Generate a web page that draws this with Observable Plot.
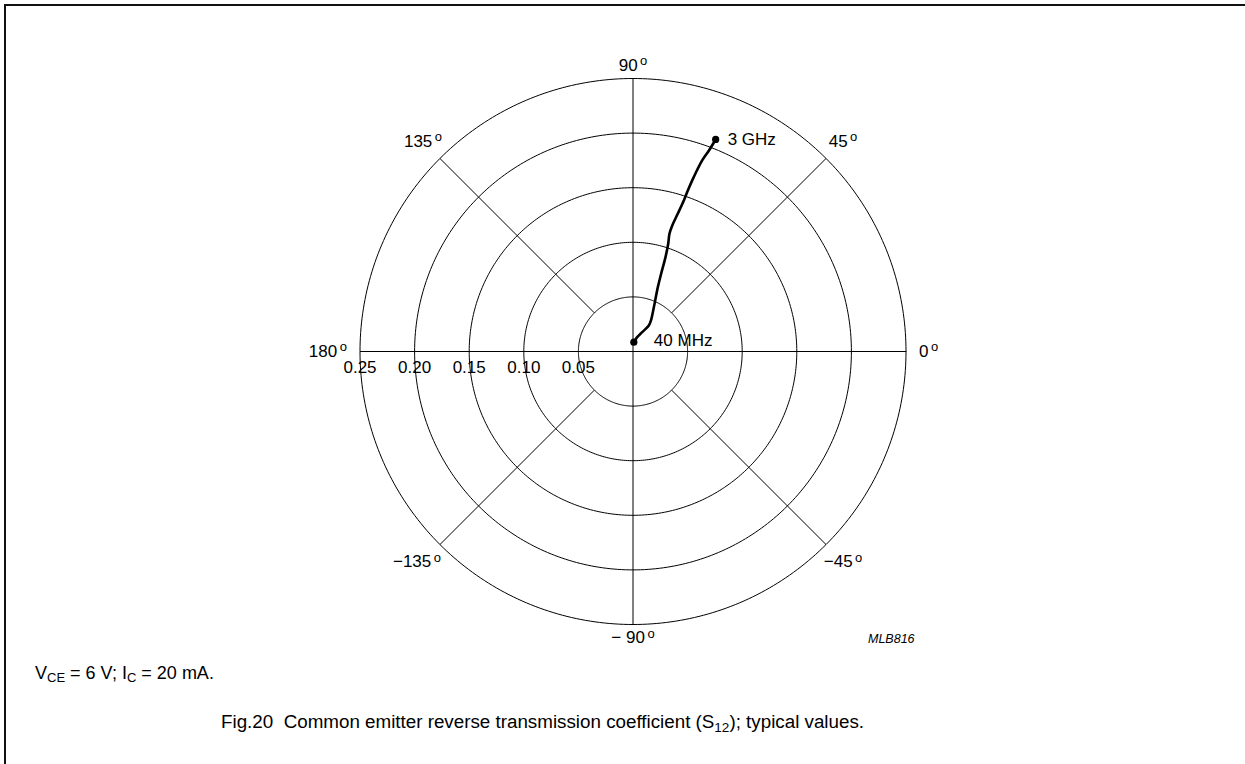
<!DOCTYPE html>
<html>
<head>
<meta charset="utf-8">
<script src="https://cdn.jsdelivr.net/npm/d3@7"></script>
<script src="https://cdn.jsdelivr.net/npm/@observablehq/plot@0.6"></script>
<style>
  html, body { margin: 0; padding: 0; background: #fff; overflow: hidden; width: 1245px; height: 764px; }
  body { position: relative; font-family: "Liberation Sans", Arial, sans-serif; color: #000; }
  #frameTop { position: absolute; left: 4px; top: 4px; width: 1241px; height: 2px; background: #111; }
  #frameLeft { position: absolute; left: 4px; top: 4px; width: 2px; height: 760px; background: #111; }
  #chart { position: absolute; left: 0; top: 0; }
  #code { position: absolute; left: 868px; top: 633px; font-size: 12.5px; font-style: italic; line-height: 13px; }
  #cond { position: absolute; left: 35px; top: 664px; font-size: 18px; line-height: 18px; white-space: pre; }
  #cond sub { font-size: 13px; vertical-align: -3px; line-height: 0; }
  #caption { position: absolute; left: 221px; top: 712px; font-size: 18.8px; line-height: 19px; white-space: pre; }
  #caption sub { font-size: 13.5px; vertical-align: -4px; line-height: 0; }
</style>
</head>
<body>
<div id="chart"></div>
<div id="frameTop"></div>
<div id="frameLeft"></div>
<div id="code">MLB816</div>
<div id="cond">V<sub>CE</sub> = 6 V; I<sub>C</sub> = 20 mA.</div>
<div id="caption">Fig.20  Common emitter reverse transmission coefficient (S<sub>12</sub>); typical values.</div>
<script>
// ---- data ----
const ringValues = [0.05, 0.10, 0.15, 0.20, 0.25];
const ringLabels = ["0.05", "0.10", "0.15", "0.20", "0.25"];
const spokeAngles = [0, 45, 90, 135, 180, -135, -90, -45];
const spokeLabels = ["0", "45", "90", "135", "180", "\u2212135", "\u2212 90", "\u221245"];
const freqLabels = ["40 MHz", "3 GHz"];
// S12 magnitude and phase (degrees), 40 MHz ... 3 GHz
const s12Magnitude = [0.0086, 0.0137, 0.0196, 0.0279, 0.0334, 0.0403, 0.0494, 0.0632, 0.0757, 0.0914,
                      0.1038, 0.1129, 0.1209, 0.1326, 0.1459, 0.1558, 0.1691, 0.1861, 0.1968, 0.2084];
const s12Angle = [84.9, 73.8, 64.6, 58.7, 60.2, 63.2, 66.1, 68.9, 70.1, 71.0,
                  71.9, 72.8, 72.7, 72.0, 71.4, 71.2, 70.8, 70.1, 69.3, 68.7];

// ---- helpers ----
const rad = a => a * Math.PI / 180;
const px = (r, a) => r * Math.cos(rad(a));
const py = (r, a) => r * Math.sin(rad(a));
const rMax = ringValues[ringValues.length - 1];

const circleData = ringValues.flatMap(r => d3.range(0, 361, 1).map(a => ({ring: r, x: px(r, a), y: py(r, a)})));
const spokeData = spokeAngles.map(a => ({a, r0: a % 90 === 0 ? 0 : ringValues[0], r1: rMax}));
const curve = s12Magnitude.map((m, i) => ({x: px(m, s12Angle[i]), y: py(m, s12Angle[i])}));
const ends = [curve[0], curve[curve.length - 1]];

const axisLabelR = 0.262, diagLabelR = 0.272;
const angleLabels = spokeAngles.map((a, i) => {
  const r = a % 90 === 0 ? axisLabelR : diagLabelR;
  return {a, x: px(r, a), y: py(r, a), text: spokeLabels[i] + "\u00b0"};
});

const cx = 632.5, cy = 351, R = 273;
const font = "Liberation Sans, Arial, sans-serif";

const chart = Plot.plot({
  width: 1200,
  height: 650,
  margin: 0,
  style: {fontFamily: font, background: "transparent", overflow: "visible"},
  x: {domain: [-rMax, rMax], range: [cx - R, cx + R], axis: null},
  y: {domain: [-rMax, rMax], range: [cy + R, cy - R], axis: null},
  marks: [
    Plot.line(circleData, {x: "x", y: "y", z: "ring", stroke: "black", strokeWidth: 1}),
    Plot.link(spokeData, {
      x1: d => px(d.r0, d.a), y1: d => py(d.r0, d.a),
      x2: d => px(d.r1, d.a), y2: d => py(d.r1, d.a),
      stroke: "black", strokeWidth: 1
    }),
    Plot.text(ringValues, {x: d => -d, y: 0, text: (d, i) => ringLabels[i], dy: 16, fontSize: 17, fill: "black"}),
    Plot.text(angleLabels.filter(d => d.a === 0), {x: "x", y: "y", text: "text", textAnchor: "start", fontSize: 17, fill: "black"}),
    Plot.text(angleLabels.filter(d => d.a === 180), {x: "x", y: "y", text: "text", textAnchor: "end", fontSize: 17, fill: "black"}),
    Plot.text(angleLabels.filter(d => d.a === -135), {x: "x", y: "y", text: "text", textAnchor: "middle", dx: -6, fontSize: 17, fill: "black"}),
    Plot.text(angleLabels.filter(d => d.a !== 0 && d.a !== 180 && d.a !== -135), {x: "x", y: "y", text: "text", textAnchor: "middle", fontSize: 17, fill: "black"}),
    Plot.line(curve, {x: "x", y: "y", stroke: "black", strokeWidth: 2.6, curve: "catmull-rom"}),
    Plot.dot(ends, {x: "x", y: "y", r: 3.6, fill: "black", stroke: "none"}),
    Plot.text([ends[0]], {x: "x", y: "y", text: () => freqLabels[0], textAnchor: "start", dx: 20, dy: -2, fontSize: 17, fill: "black"}),
    Plot.text([ends[1]], {x: "x", y: "y", text: () => freqLabels[1], textAnchor: "start", dx: 12, dy: 0, fontSize: 17, fill: "black"})
  ]
});

// superscript "o" for the degree labels
d3.select(chart).selectAll("text").each(function() {
  const t = this.textContent;
  if (t.endsWith("\u00b0")) {
    const el = d3.select(this);
    el.text(null);
    el.append("tspan").text(t.slice(0, -1));
    el.append("tspan").attr("dx", "2.5").attr("dy", "-0.42em").attr("font-size", 13).text("o");
  }
});

document.getElementById("chart").appendChild(chart);
</script>
</body>
</html>
